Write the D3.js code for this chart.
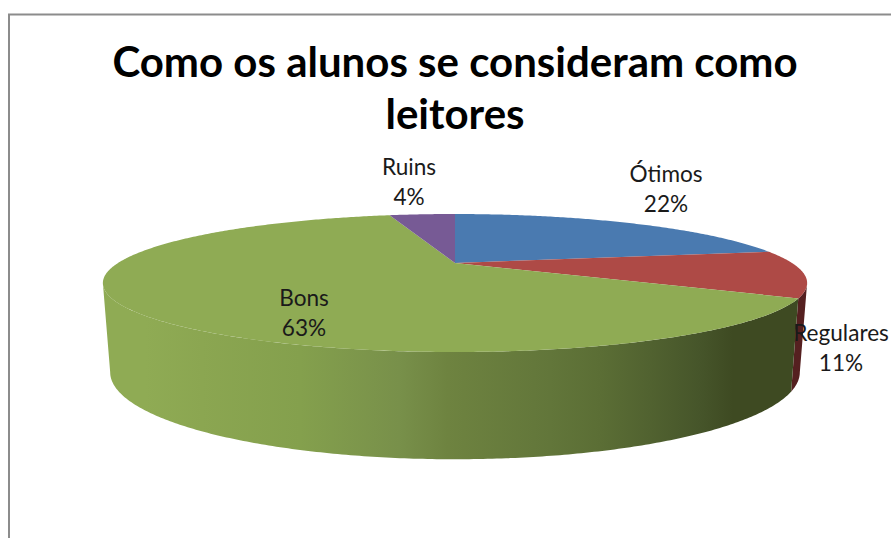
<!DOCTYPE html>
<html>
<head>
<meta charset="utf-8">
<script src="https://cdn.jsdelivr.net/npm/d3@7"></script>
<style>
  html, body { margin: 0; padding: 0; background: #fff; }
  svg { display: block; }
  text { font-family: Lato, "Open Sans", sans-serif; fill: #1a1a1a; }
  .title { font-weight: 700; font-size: 42px; fill: #000; }
  .label { font-size: 22.6px; }
</style>
</head>
<body>
<svg id="chart" width="891" height="538"></svg>
<script>
const categories = ['Ótimos', 'Regulares', 'Bons', 'Ruins'];
const values = [22, 11, 63, 4];
const titleLines = ['Como os alunos se consideram como', 'leitores'];

const W = 891, H = 538;
const topColors = ['#4a7ab0', '#ae4a46', '#8fab54', '#775a95'];
const wallColors = ['#2f4c70', '#552020', null, '#4c3a60'];

// green wall goes from light on the left to nearly olive-black on the right
const wallStops = [
  [0, '#8fab54'], [0.06, '#8fab54'], [0.14, '#8ba651'], [0.28, '#84a04d'],
  [0.42, '#78904a'], [0.49, '#6e8340'], [0.635, '#62763a'], [0.706, '#5b6e35'],
  [0.777, '#516230'], [0.848, '#46552a'], [0.895, '#3e4a22'], [1, '#3e4a22']
];

const svg = d3.select('#chart');

// frame: only the top and left edges are inside the crop
svg.append('path')
  .attr('d', d3.line()([[9, H], [9, 14.5], [W, 14.5]]))
  .attr('fill', 'none')
  .attr('stroke', '#8c8c8c')
  .attr('stroke-width', 2);

svg.selectAll('.title')
  .data(titleLines)
  .join('text')
  .attr('class', 'title')
  .attr('text-anchor', 'middle')
  .attr('x', 455)
  .attr('y', (d, i) => 77 + i * 52)
  .text(d => d);

// perspective projection of a circle; the apex is not the ellipse centre
const topDisc = {cx: 455, cy: 263, R: 337, S: 63.2, p: 0.29};
const bottomDisc = {cx: 455, cy: 347, R: 330, S: 79.7, p: 0.29};

function project(disc, a) {
  const fwd = -Math.cos(a);
  const w = 1 - disc.p * fwd;
  return [disc.cx + disc.R * Math.sin(a) / w, disc.cy + disc.S * fwd / w];
}

const pie = d3.pie().sort(null).value(d => d);
const arcs = pie(values);

const defs = svg.append('defs');
const grad = defs.append('linearGradient')
  .attr('id', 'wall-green')
  .attr('gradientUnits', 'userSpaceOnUse')
  .attr('x1', 103).attr('x2', 807).attr('y1', 0).attr('y2', 0);
grad.selectAll('stop')
  .data(wallStops)
  .join('stop')
  .attr('offset', d => d[0])
  .attr('stop-color', d => d[1]);

function angles(a0, a1) {
  const n = Math.max(2, Math.ceil((a1 - a0) / 0.01));
  return d3.range(n + 1).map(i => a0 + (a1 - a0) * i / n);
}

// side wall: only the part between the left and right silhouette points shows
const visFrom = Math.acos(-topDisc.p);
const visTo = 2 * Math.PI - visFrom;
const walls = svg.append('g');
arcs.forEach((d, i) => {
  const a0 = Math.max(d.startAngle, visFrom);
  const a1 = Math.min(d.endAngle, visTo);
  if (a1 <= a0) return;
  const as = angles(a0, a1);
  const outline = as.map(a => project(topDisc, a))
    .concat(as.slice().reverse().map(a => project(bottomDisc, a)));
  walls.append('path')
    .attr('d', d3.line()(outline) + 'Z')
    .attr('fill', wallColors[i] || 'url(#wall-green)');
});

// top face
svg.append('g').selectAll('path')
  .data(arcs)
  .join('path')
  .attr('fill', (d, i) => topColors[i])
  .attr('d', d => d3.line()(
    [[topDisc.cx, topDisc.cy]].concat(angles(d.startAngle, d.endAngle).map(a => project(topDisc, a)))
  ) + 'Z');

// data labels
const labelPos = [[666, 182], [841, 341], [304, 306], [409, 175]];
const labels = svg.append('g').selectAll('text')
  .data(arcs)
  .join('text')
  .attr('class', 'label')
  .attr('text-anchor', 'middle')
  .attr('transform', (d, i) => `translate(${labelPos[i]})`);
labels.append('tspan').attr('x', 0).attr('y', 0).text((d, i) => categories[i]);
labels.append('tspan').attr('x', 0).attr('y', 30).text(d => d.value + '%');
</script>
</body>
</html>
